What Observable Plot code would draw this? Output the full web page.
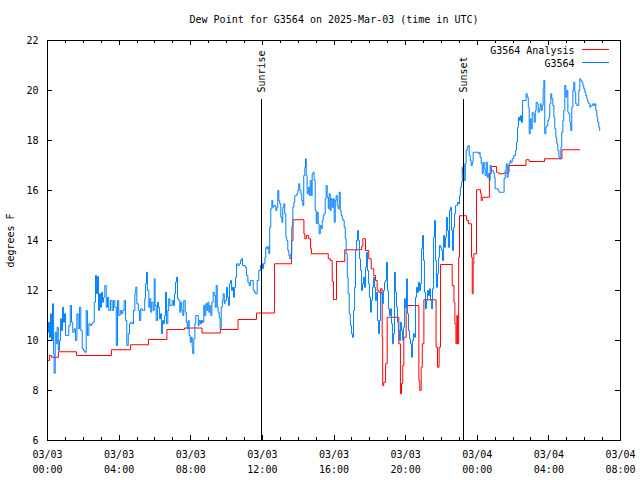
<!DOCTYPE html>
<html><head><meta charset="utf-8">
<script src="https://cdn.jsdelivr.net/npm/d3@7"></script>
<script src="https://cdn.jsdelivr.net/npm/@observablehq/plot@0.6"></script>
<style>body{margin:0;background:#fff} svg{display:block}</style>
</head><body><div id="chart"></div>
<script>
const title = "Dew Point for G3564 on 2025-Mar-03 (time in UTC)";
const yLabel = "degrees F";
const seriesNames = ["G3564 Analysis", "G3564"];
const seriesColors = ["#ff0000", "#0080ff"];

// [hours since 2025-03-03 00:00 UTC, degrees F]
const analysisObs = [[0,9.2],[0.11,9.4],[0.22,9.33],[0.61,9.55],[1.62,9.4],[3.57,9.63],[4.64,9.83],[5.64,10.04],[6.67,10.44],[7.65,10.5],[8.63,10.3],[9.65,10.44],[10.64,10.84],[11.67,11.1],[12.68,13.07],[13.63,14.0],[13.71,14.83],[14.32,14.27],[14.37,14.07],[14.46,14.2],[14.58,14.07],[14.69,13.67],[14.74,13.47],[15.68,13.27],[15.80,13.2],[15.90,12.36],[15.97,11.64],[16.14,13.16],[16.60,13.63],[17.54,13.76],[17.61,14.07],[17.76,13.6],[17.94,13.27],[18.08,12.87],[18.22,12.6],[18.32,12.4],[18.41,12.0],[18.50,11.93],[18.60,12.07],[18.69,10.13],[18.72,8.2],[18.78,8.33],[18.88,9.07],[18.97,10.93],[19.62,9.87],[19.71,7.87],[19.77,8.28],[19.84,9.0],[19.90,10.13],[20.03,11.4],[20.74,8.4],[20.79,8.0],[20.87,8.93],[20.93,9.87],[21.02,11.63],[21.70,9.73],[21.78,8.93],[21.87,9.73],[21.95,13.04],[22.60,12.2],[22.70,11.53],[22.75,10.67],[22.81,9.87],[22.86,11.0],[22.90,9.87],[22.96,13.33],[23.01,14.99],[23.41,14.8],[23.51,14.67],[23.68,13.33],[23.72,11.87],[23.77,13.07],[23.81,13.47],[23.96,16.03],[24.18,15.9],[24.22,15.6],[24.28,15.73],[24.68,16.67],[24.78,16.96],[25.08,16.73],[25.15,16.7],[25.24,16.67],[25.48,16.7],[25.73,17.0],[26.72,17.23],[26.90,17.16],[27.76,17.27],[28.73,17.63],[29.73,17.63]];

const stationObs = [[0,10.33],[0.06,10.73],[0.11,10.13],[0.17,11.07],[0.22,10.0],[0.28,11.47],[0.34,9.47],[0.37,8.69],[0.43,10.33],[0.49,9.87],[0.54,10.53],[0.60,9.6],[0.67,10.0],[0.73,10.87],[0.78,10.4],[0.84,11.33],[0.89,10.73],[0.95,11.07],[1.01,10.2],[1.12,10.2],[1.19,10.6],[1.27,11.4],[1.34,10.73],[1.41,10.33],[1.49,10.47],[1.56,10.0],[1.64,11.07],[1.71,10.47],[1.79,11.33],[1.86,10.4],[1.94,9.67],[2.01,9.6],[2.08,9.53],[2.16,11.2],[2.23,10.2],[2.31,10.67],[2.38,10.6],[2.46,10.67],[2.53,10.73],[2.61,11.53],[2.68,12.6],[2.74,11.87],[2.79,12.56],[2.85,11.2],[2.90,11.87],[2.96,11.33],[3.02,11.93],[3.07,11.53],[3.13,11.73],[3.20,12.2],[3.28,11.33],[3.35,11.73],[3.42,11.2],[3.52,11.6],[3.61,11.2],[3.69,11.6],[3.76,11.33],[3.84,9.8],[3.91,11.6],[3.98,11.0],[4.06,11.2],[4.13,11.07],[4.21,11.2],[4.28,11.6],[4.36,10.8],[4.43,9.8],[4.51,10.27],[4.58,10.67],[4.65,10.73],[4.73,10.67],[4.80,11.2],[4.88,11.87],[4.93,12.13],[4.99,11.47],[5.07,11.2],[5.14,10.8],[5.21,11.27],[5.29,11.2],[5.36,11.2],[5.43,11.67],
[5.47,12.27],[5.53,12.73],[5.58,12.0],[5.66,11.33],[5.71,11.67],[5.77,11.13],[5.82,11.53],[5.90,11.2],[5.96,12.47],[6.01,11.4],[6.07,10.8],[6.14,11.53],[6.20,11.33],[6.25,10.87],[6.31,11.07],[6.37,10.27],[6.42,10.8],[6.48,10.67],[6.53,11.0],[6.59,11.93],[6.65,10.67],[6.72,11.2],[6.77,11.67],[6.83,11.4],[6.91,11.4],[6.96,11.6],[7.04,11.4],[7.09,11.87],[7.15,12.33],[7.20,12.53],[7.26,11.67],[7.33,11.6],[7.39,11.13],[7.44,11.53],[7.50,11.2],[7.56,11.0],[7.61,11.6],[7.69,11.13],[7.75,10.73],[7.80,10.47],[7.86,10.8],[7.91,10.2],[7.97,9.93],[8.03,10.13],[8.08,9.73],[8.11,9.47],[8.17,10.07],[8.23,10.67],[8.28,11.0],[8.36,11.0],[8.42,10.6],[8.47,10.8],[8.54,10.67],[8.60,10.8],[8.66,10.73],[8.73,11.4],[8.78,11.0],[8.84,11.47],[8.90,11.2],[8.95,11.53],[9.01,11.13],[9.06,11.4],[9.12,11.0],[9.18,11.53],[9.25,11.93],[9.31,11.8],[9.37,11.33],[9.42,12.2],[9.48,11.33],[9.53,11.13],[9.59,10.93],[9.64,10.47],[9.70,11.33],[9.76,11.6],[9.81,11.87],[9.87,11.47],[9.92,11.6],[10.00,12.13],[10.05,11.73],[10.11,11.4],[10.16,12.27],[10.22,12.4],[10.28,12.0],[10.33,12.13],[10.39,11.73],[10.44,12.13],[10.50,12.53],[10.56,13.07],[10.63,13.0],[10.71,13.07],[10.78,13.2],[10.83,13.27],[10.89,13.0],[10.96,13.0],[11.04,12.93],[11.11,12.6],[11.19,12.33],[11.26,12.2],[11.34,12.4],[11.41,12.4],[11.49,12.0],[11.56,11.93],
[11.62,11.87],[11.71,12.4],[11.80,12.8],[11.90,13.0],[11.95,13.09],[12.01,12.87],[12.06,13.07],[12.14,13.33],[12.19,13.73],[12.25,13.67],[12.30,13.76],[12.36,13.47],[12.41,14.53],[12.47,15.27],[12.53,15.6],[12.58,15.33],[12.64,15.4],[12.69,15.4],[12.75,15.2],[12.81,15.33],[12.86,16.0],[12.92,15.6],[12.97,15.47],[13.03,14.93],[13.09,14.73],[13.14,15.33],[13.20,15.47],[13.25,15.07],[13.31,14.13],[13.36,14.0],[13.42,13.6],[13.48,13.4],[13.53,13.27],[13.59,13.47],[13.64,14.53],[13.70,15.33],[13.76,15.53],[13.81,15.8],[13.87,15.8],[13.92,15.87],[13.98,16.0],[14.03,16.27],[14.09,16.0],[14.15,15.87],[14.20,15.6],[14.26,15.4],[14.31,16.6],[14.37,16.93],[14.41,17.27],[14.45,16.6],[14.50,15.87],[14.56,16.13],[14.62,15.8],[14.67,16.4],[14.73,15.8],[14.78,16.67],[14.84,16.73],[14.89,16.4],[14.95,15.2],[15.01,14.67],[15.06,15.13],[15.12,14.67],[15.17,14.27],[15.23,14.6],[15.29,14.47],[15.34,14.8],[15.40,15.0],[15.45,15.07],[15.51,15.67],[15.56,16.2],[15.62,15.73],[15.68,15.27],[15.73,15.87],[15.79,15.2],[15.84,15.67],[15.90,15.33],[15.96,15.67],[16.01,14.73],[16.07,15.6],[16.12,15.8],[16.18,15.4],[16.23,15.27],[16.29,15.93],[16.35,15.2],[16.40,15.0],[16.46,14.87],[16.51,14.8],[16.57,14.53],[16.63,14.07],[16.68,13.47],[16.74,12.53],[16.79,11.87],[16.85,11.07],[16.91,10.73],
[16.92,10.6],[16.98,10.27],[17.03,10.13],[17.09,11.2],[17.15,12.13],[17.20,13.6],[17.26,14.0],[17.31,14.4],[17.37,14.0],[17.42,13.27],[17.48,12.8],[17.54,12.0],[17.59,12.27],[17.65,12.53],[17.70,12.13],[17.76,12.93],[17.82,13.53],[17.87,12.8],[17.93,12.27],[17.98,11.73],[18.04,11.13],[18.09,11.6],[18.15,12.13],[18.21,12.53],[18.26,12.13],[18.32,11.6],[18.37,11.93],[18.43,10.8],[18.49,10.27],[18.54,10.8],[18.60,11.93],[18.65,11.87],[18.71,11.47],[18.76,12.0],[18.82,12.33],[18.88,12.4],[18.93,13.13],[18.99,12.0],[19.04,11.27],[19.10,11.0],[19.16,11.27],[19.21,10.67],[19.27,9.87],[19.32,10.27],[19.38,12.73],[19.43,11.93],[19.49,11.33],[19.55,10.73],[19.60,10.4],[19.66,10.0],[19.71,10.73],[19.77,10.4],[19.83,10.0],[19.88,10.53],[19.94,11.67],[19.99,11.33],[20.05,12.47],[20.10,11.07],[20.16,10.4],[20.22,10.07],[20.27,9.87],[20.33,9.33],[20.38,10.0],[20.44,10.27],[20.50,10.13],[20.55,11.73],[20.61,12.13],[20.66,11.93],[20.72,12.33],[20.78,12.0],[20.83,12.27],[20.89,13.67],[20.94,14.2],[21.00,13.2],[21.05,11.93],[21.11,11.27],[21.17,11.6],[21.22,12.0],[21.28,11.8],[21.33,12.07],[21.39,11.6],[21.45,11.27],[21.50,12.07],[21.56,14.13],[21.61,14.8],[21.67,13.2],[21.72,12.13],[21.78,12.67],[21.84,13.33],[21.89,13.8],[21.95,13.73],
[22.00,13.6],[22.06,13.2],[22.12,14.2],[22.17,13.73],[22.23,14.13],[22.28,14.93],[22.34,14.4],[22.39,13.73],[22.45,15.2],[22.51,15.33],[22.56,14.4],[22.62,13.6],[22.67,14.53],[22.73,15.07],[22.79,15.4],[22.84,15.4],[22.90,15.53],[22.95,15.47],[23.01,15.8],[23.06,16.13],[23.12,16.33],[23.16,16.93],[23.19,16.67],[23.23,17.07],[23.27,16.4],[23.33,17.07],[23.38,17.6],[23.44,17.73],[23.50,17.8],[23.55,17.4],[23.61,17.2],[23.66,17.0],[23.72,17.13],[23.77,17.53],[23.83,17.53],[23.89,17.53],[23.94,17.53],[24.00,17.53],[24.05,17.47],[24.11,17.53],[24.16,17.33],[24.22,17.07],[24.28,16.67],[24.33,17.13],[24.39,16.87],[24.44,16.6],[24.50,17.13],[24.56,16.53],[24.61,16.67],[24.67,16.4],[24.72,17.0],[24.78,16.8],[24.83,16.8],[24.89,16.73],[24.95,16.53],[25.00,16.07],[25.06,16.07],[25.11,16.07],[25.17,16.0],[25.22,15.93],[25.28,15.93],[25.34,15.93],[25.39,15.93],[25.45,15.93],[25.50,16.47],[25.56,16.8],[25.62,17.07],[25.67,16.53],[25.73,16.73],[25.78,17.07],[25.84,17.2],
[25.86,17.13],[25.95,17.27],[26.04,17.4],[26.14,17.6],[26.19,17.93],[26.25,18.53],[26.30,18.93],[26.36,18.8],[26.42,19.0],[26.47,18.73],[26.53,19.6],[26.60,19.6],[26.68,19.6],[26.73,19.87],[26.79,19.73],[26.85,19.33],[26.90,18.27],[26.96,18.87],[27.01,18.47],[27.07,19.13],[27.12,19.07],[27.18,18.73],[27.24,19.2],[27.29,19.53],[27.35,19.47],[27.40,19.13],[27.46,19.27],[27.52,19.47],[27.57,19.2],[27.63,19.4],[27.68,20.07],[27.72,20.4],[27.77,18.27],[27.83,18.53],[27.88,18.6],[27.94,18.8],[28.00,18.93],[28.05,19.47],[28.11,19.87],[28.16,19.67],[28.22,19.4],[28.28,18.93],[28.33,18.47],[28.39,18.13],[28.44,17.87],[28.50,17.6],[28.56,17.33],[28.61,17.27],[28.67,17.73],[28.72,18.33],[28.78,18.8],[28.83,19.2],[28.89,20.2],[28.95,19.73],[29.00,20.0],[29.06,19.13],[29.11,19.07],[29.17,18.73],[29.22,18.4],[29.28,19.33],[29.34,20.0],[29.39,20.33],[29.45,19.93],[29.50,19.47],[29.56,19.4],[29.62,19.4],[29.67,20.0],[29.73,20.47],[29.78,20.4],[29.84,20.33],[29.90,20.2],[29.95,20.07],[30.01,19.93],[30.06,19.8],[30.12,19.67],[30.17,19.53],[30.23,19.47],[30.29,19.33],[30.34,19.4],[30.40,19.4],[30.45,19.47],[30.51,19.4],[30.57,19.47],[30.62,19.2],[30.68,18.93],[30.73,18.73],[30.79,18.53],[30.84,18.4]];

const xTickHours = [0, 4, 8, 12, 16, 20, 24, 28, 32];
const xTickDates = ["03/03","03/03","03/03","03/03","03/03","03/03","03/04","03/04","03/04"];
const xTickTimes = ["00:00","04:00","08:00","12:00","16:00","20:00","00:00","04:00","08:00"];
const xMinorHours = [0,1,2,3,4,5,6,7,8,9,10,11,12,13,14,15,16,17,18,19,20,21,22,23,24,25,26,27,28,29,30,31,32];
const yTicks = [6, 8, 10, 12, 14, 16, 18, 20, 22];
const sunEvents = ["Sunrise", "Sunset"];
const sunHours = [11.95, 23.23];

const W = 640, H = 480, ml = 47, mr = 20, mt = 40, mb = 40;
const fw = W - ml - mr, fh = H - mt - mb;
const yTop = yTicks[yTicks.length - 1];

const legendMarks = seriesNames.flatMap((name, i) => [
  Plot.text([name], {frameAnchor: "top-right", dx: -46, dy: 10 + 13 * i, textAnchor: "end", lineAnchor: "middle", fill: "black"}),
  Plot.ruleY([yTop], {y: d => d, dy: 9 + 13 * i, insetLeft: fw - 38, insetRight: 11, stroke: seriesColors[i], strokeWidth: 1, shapeRendering: "crispEdges"})
]);

const chart = Plot.plot({
  width: W, height: H,
  marginLeft: ml, marginRight: mr, marginTop: mt, marginBottom: mb,
  style: {fontFamily: "'DejaVu Sans Mono', monospace", fontSize: "10px", background: "white", color: "black"},
  x: {domain: [xTickHours[0], xTickHours[xTickHours.length - 1]], axis: null},
  y: {domain: [yTicks[0], yTop], axis: null},
  marks: [
    Plot.line(analysisObs, {x: d => d[0], y: d => d[1], stroke: seriesColors[0], strokeWidth: 1, curve: "step-after"}),
    Plot.line(stationObs, {x: d => d[0], y: d => d[1], stroke: seriesColors[1], strokeWidth: 1, curve: "step-after"}),
    Plot.ruleX(sunHours, {x: d => d, insetTop: 59, stroke: "black", strokeWidth: 1, shapeRendering: "crispEdges"}),
    Plot.text(sunEvents, {x: (d, i) => sunHours[i], frameAnchor: "top", rotate: -90, textAnchor: "start", lineAnchor: "middle", dy: 52, fill: "black"}),
    // ticks
    Plot.tickX(xTickHours, {x: d => d, insetTop: fh - 5, stroke: "black", shapeRendering: "crispEdges"}),
    Plot.tickX(xTickHours, {x: d => d, insetBottom: fh - 5, stroke: "black", shapeRendering: "crispEdges"}),
    Plot.tickX(xMinorHours, {x: d => d, insetTop: fh - 3, stroke: "black", shapeRendering: "crispEdges"}),
    Plot.tickX(xMinorHours, {x: d => d, insetBottom: fh - 3, stroke: "black", shapeRendering: "crispEdges"}),
    Plot.tickY(yTicks, {y: d => d, insetRight: fw - 5, stroke: "black", shapeRendering: "crispEdges"}),
    Plot.tickY(yTicks, {y: d => d, insetLeft: fw - 5, stroke: "black", shapeRendering: "crispEdges"}),
    Plot.frame({stroke: "black", strokeWidth: 1, shapeRendering: "crispEdges"}),
    // tick labels
    Plot.text(xTickHours, {x: d => d, frameAnchor: "bottom", text: (d, i) => xTickDates[i] + "\n" + xTickTimes[i], lineAnchor: "top", lineHeight: 1.5, dy: 7, fill: "black"}),
    Plot.text(yTicks, {y: d => d, frameAnchor: "left", text: d => String(d), textAnchor: "end", dx: -9, fill: "black"}),
    // titles
    Plot.text([title], {frameAnchor: "top", dy: -21, lineAnchor: "middle", fill: "black"}),
    Plot.text([yLabel], {frameAnchor: "left", rotate: -90, dx: -37, textAnchor: "middle", fill: "black"}),
    ...legendMarks
  ]
});
document.getElementById("chart").appendChild(chart);
</script>
</body></html>
